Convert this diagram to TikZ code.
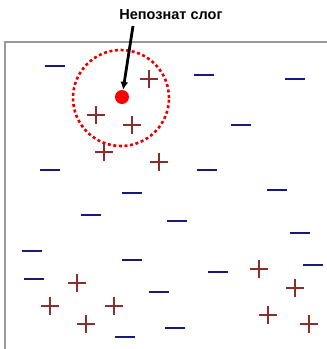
\documentclass[tikz,border=0pt]{standalone}
\usepackage{fontspec}
\usepackage{tikz}
\usetikzlibrary{arrows.meta}
\newfontfamily\labelfont{Liberation Sans}
\definecolor{plusred}{RGB}{140,45,45}
\definecolor{minusblue}{RGB}{25,25,125}
\tikzset{
	plussign/.style={plusred, line width=1.3pt},
	minussign/.style={minusblue, line width=1.8pt}
}

\begin{document}
\begin{tikzpicture}[x=1pt,y=-1pt]
	\useasboundingbox (0,0) rectangle (327,349);
	\draw[gray!80, line width=1.2pt] (5,349) -- (5,42) -- (327,42);
	% plus samples
	\foreach \x/\y in {149/79,96/115,132/125,104/152,159/162,77/283,50/306,114/306,86/324,259/269,295/288,268/315,309/324}
		\draw[plussign] (\x-9,\y) -- ++(18,0) (\x,\y-9) -- ++(0,18);
	% minus samples
	\foreach \x/\y in {55/66,204/75,295/79,241/125,50/170,207/170,132/193,277/190,91/215,177/221,300/233,32/251,132/260,313/265,218/272,34/279,159/292,175/328,125/337}
		\draw[minussign] (\x-10,\y) -- ++(20,0);
	\draw[red!90!black, line width=2.6pt, dash pattern=on 3pt off 2.6pt] (121,98) circle[radius=48pt];
	\node[circle, fill=red, inner sep=0pt, minimum size=14pt] (query) at (122,97) {};
	\node[font=\labelfont\bfseries\fontsize{14.5}{16}\selectfont] (title) at (171,15) {Непознат слог};
	\coordinate (tail) at (133,26);
	\draw[-{Latex[length=8pt,width=8pt]}, line width=2.8pt] (tail) -- (query);
\end{tikzpicture}
\end{document}
